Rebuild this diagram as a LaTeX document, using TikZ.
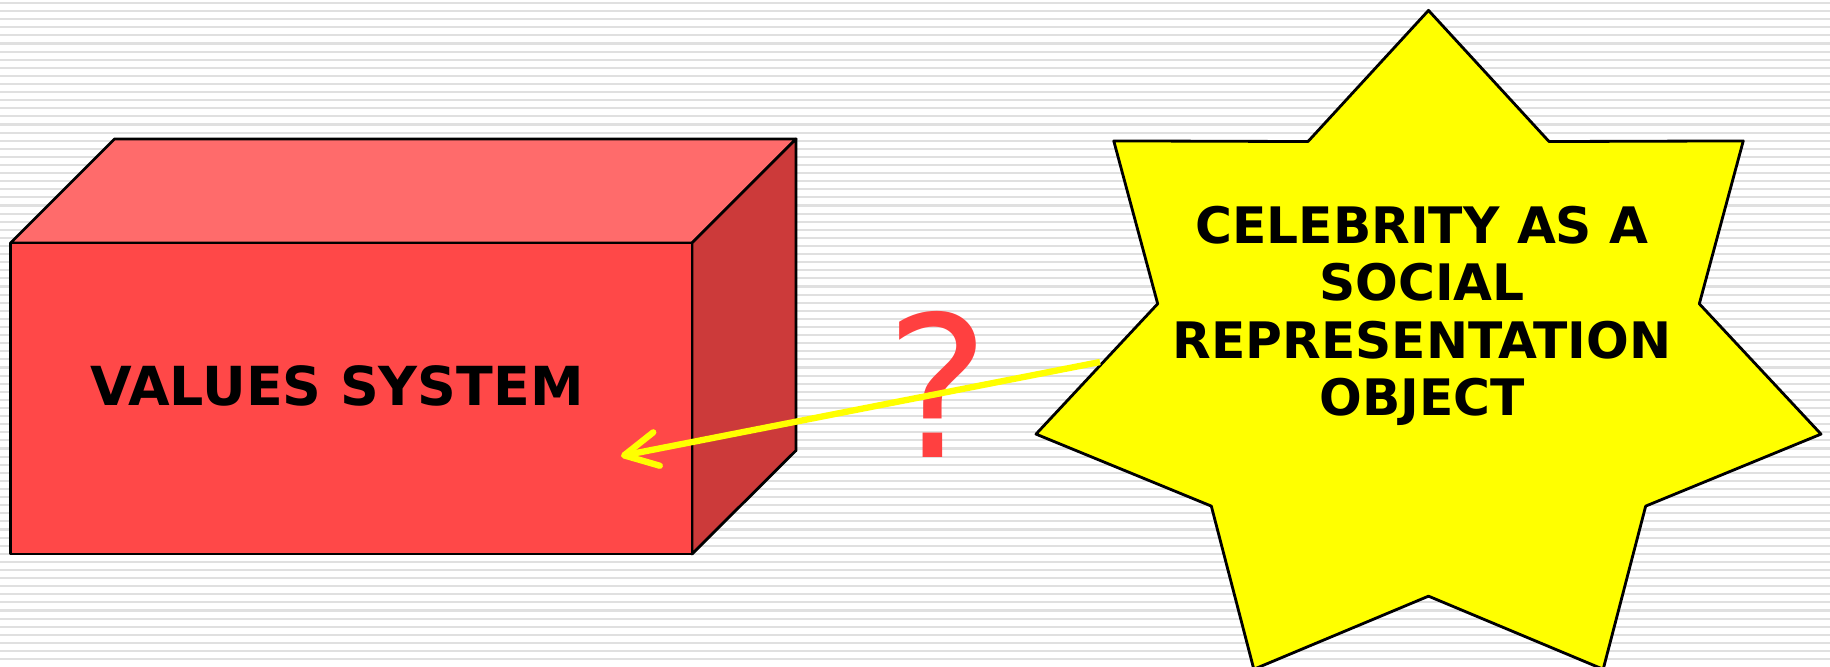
\documentclass[tikz,border=0pt]{standalone}
\usepackage{fontspec}
\usetikzlibrary{arrows.meta}
\newfontfamily\slidefont{DejaVu Sans}
\definecolor{frontred}{RGB}{255,72,72}
\definecolor{topred}{RGB}{255,107,107}
\definecolor{sidered}{RGB}{204,58,58}
\definecolor{markred}{RGB}{255,64,64}
\definecolor{starfill}{RGB}{255,255,0}
\tikzset{
  face/.style={draw=black, line width=0.8pt, line join=round},
  stripe/.style={draw=black!12, line width=0.6pt},
  pointer/.style={draw=starfill, line width=1.8pt, -{Straight Barb[length=3.3mm, width=3.4mm, round]}},
}
\begin{document}
\begin{tikzpicture}[x=0.01cm, y=-0.01cm]
\useasboundingbox (0,0) rectangle (1830,667);
\fill[white] (0,0) rectangle (1830,667);
\foreach \y in {3,11.1,...,667} \draw[stripe] (0,\y) -- (1830,\y);
% box
\filldraw[face, fill=topred] (10.5,243) -- (114.5,139) -- (796,139) -- (692,243) -- cycle;
\filldraw[face, fill=sidered] (692,243) -- (796,139) -- (796,450.5) -- (692,554) -- cycle;
\filldraw[face, fill=frontred] (10.5,243) rectangle (692,554);
\node[font=\slidefont\bfseries\fontsize{15.3}{18}\selectfont, anchor=base] (values) at (337,405) {VALUES SYSTEM};
% star
\filldraw[face, fill=starfill] (1428.5,10.4)
  \foreach \i in {1,...,13}{ -- ({1428.5+402.6*cos(90-\i*360/14)*(1-0.31*mod(\i,2))}, {357-346.6*sin(90-\i*360/14)*(1-0.31*mod(\i,2))}) } -- cycle;
\node[font=\slidefont\bfseries\fontsize{14.3}{16.3}\selectfont, align=center] (celebrity) at (1422,316)
  {CELEBRITY AS A\\SOCIAL\\REPRESENTATION\\OBJECT};
\node[font=\slidefont\fontsize{56}{60}\selectfont, text=markred] (question) at (938,384) {?};
% arrow
\coordinate (tail) at (1100,362);
\coordinate (tip) at (621,456);
\draw[pointer] (tail) -- (tip);
\end{tikzpicture}
\end{document}
